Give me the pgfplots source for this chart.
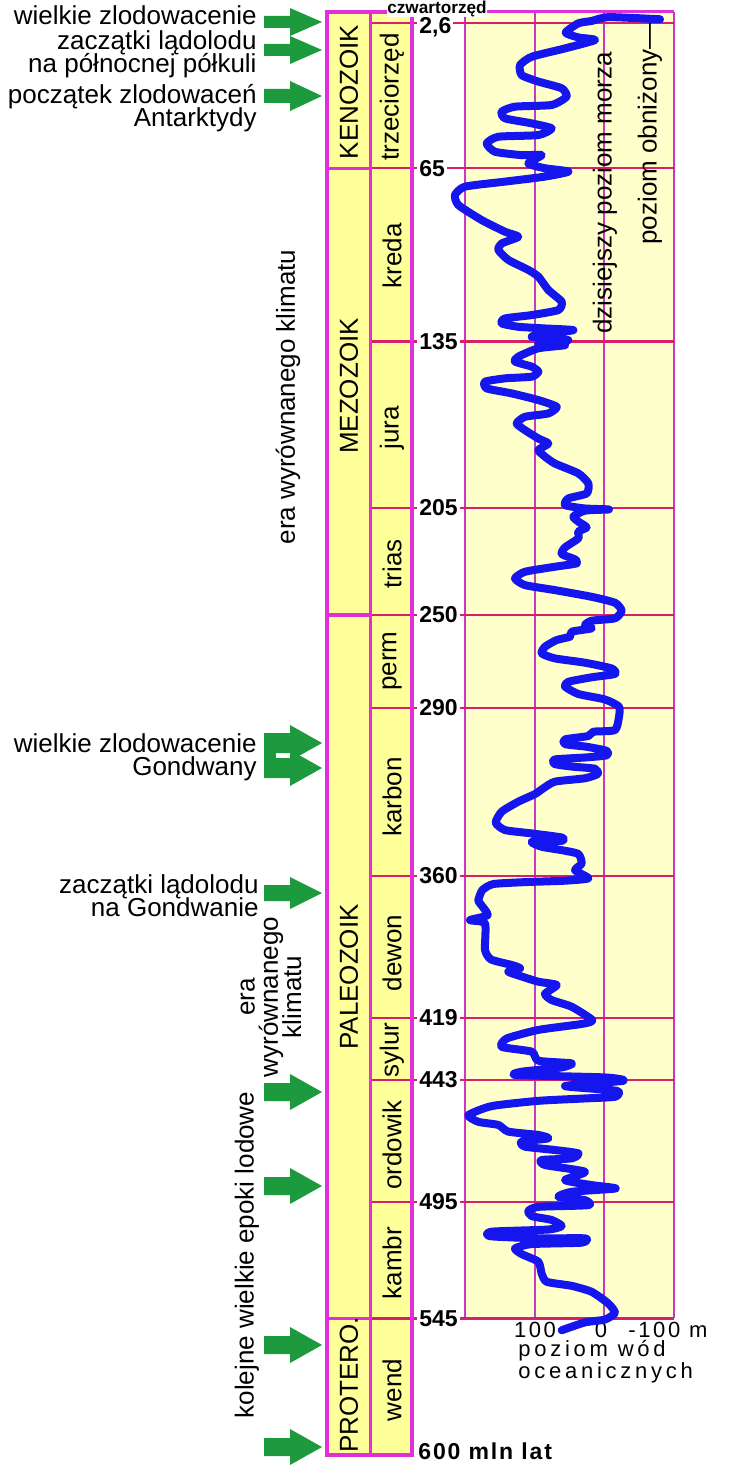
\documentclass[border=0pt]{standalone}
\usepackage{pgfplots}
\pgfplotsset{compat=1.18}
\usepackage{fontspec}
\setmainfont{Liberation Sans}
\definecolor{colY}{HTML}{FFFF99}
\definecolor{panY}{HTML}{FFFFCC}
\definecolor{mag}{HTML}{E030D8}
\definecolor{gridV}{HTML}{C838C8}
\definecolor{gridH}{HTML}{D8206A}
\definecolor{curveB}{HTML}{1515EE}
\definecolor{garr}{HTML}{1E9A3E}
\newcommand{\ftxt}{\fontsize{13}{11.6}\selectfont\lineskiplimit=-100pt}
\newcommand{\ftick}{\fontsize{11.5}{12}\selectfont\bfseries}
\newcommand{\garrow}[3]{%
 \fill[garr] (264,{#1-#2}) -- (290,{#1-#2}) -- (290,{#1-#3}) -- (322,#1) -- (290,{#1+#3}) -- (290,{#1+#2}) -- (264,{#1+#2}) -- cycle;}
\pgfplotstableread{
s age
-78.6 0.9
-5 0.0
19 1.6
38.1 2.6
56.2 6.5
38.1 8.5
14.3 9.6
57.1 13.1
104.7 16.6
121.4 20.1
119.0 24.3
95.2 27.0
61.9 29.8
54.8 33.3
76.2 36.8
128.6 37.5
147.6 39.6
142.8 42.4
104.7 44.5
76.2 46.6
95.2 49.4
152.4 50.1
169.0 52.9
157.1 56.4
119.0 57.8
90.5 57.8
109.5 61.3
85.7 63.3
52.4 64.7
85.7 66.8
142.8 68.9
200 71.0
214.3 74.5
209.5 78.7
176.2 85.0
142.8 89.9
123.8 92.0
147.6 94.8
152.4 97.5
138.1 101.7
109.5 105.9
95.2 108.7
80.9 114.3
61.9 119.2
66.7 122.7
104.7 124.8
142.8 126.2
147.6 128.3
123.8 129.7
85.7 130.4
45.2 131.1
85.7 132.7
104.7 133.9
52.4 135.3
95.2 136.7
57.1 137.4
95.2 138.7
123.8 142.2
128.6 144.3
104.7 146.4
95.2 148.5
104.7 150.6
142.8 151.3
171.4 152.7
169.0 155.5
133.3 157.6
95.2 160.4
69.0 163.2
80.9 166.0
114.3 167.4
126.2 170.2
114.3 173.0
95.2 176.5
80.9 178.6
95.2 181.3
85.7 184.1
71.4 187.0
38.1 191.1
23.8 195.3
26.2 199.5
52.4 201.6
57.1 204.4
28.6 205.8
-5.7 206.2
28.6 206.7
45.2 209.2
38.1 211.3
26.2 213.7
38.1 215.5
38.1 218.3
57.1 222.1
61.9 224.9
42.8 227.1
40.5 228.8
71.4 230.2
114.3 232.3
128.6 235.1
114.3 237.9
71.4 240.0
19.0 242.8
-14.3 245.3
-23.8 248.6
-14.3 251.8
19.0 252.8
28.6 254.6
19.0 256.0
47.6 257.4
50.0 259.5
69.0 260.9
85.7 263.7
90.5 266.5
71.4 268.6
28.6 270.4
-9.5 272.8
-14.3 275.1
19.0 276.5
52.4 278.4
57.1 280.4
38.1 283.5
0 285.8
-20 288.8
-20 293.0
-14.3 298.6
16.7 299.3
23.8 301.1
57.1 302.5
57.1 304.5
26.2 305.6
-2.4 307.3
-2.4 309.2
28.6 310.1
71.4 310.9
72.4 312.8
47.6 313.9
14.3 314.8
10.5 317.0
28.6 318.8
71.4 320.2
88.1 323.0
100 325.4
123.8 328.6
147.6 332.8
156.2 337.4
142.8 340.5
104.7 341.9
61.9 343.6
61.9 345.0
104.7 345.4
90.5 347.5
61.9 348.9
38.1 350.5
33.3 354.5
42.8 357.3
23.8 360.7
57.1 361.7
114.3 362.3
159.5 363.1
175.2 365.6
181.0 369.8
178.6 371.2
167.6 376.1
192.8 378.2
171.4 379.6
171.4 390.7
162.8 394.7
133.3 397.0
121.4 398.4
138.1 399.8
121.4 401.6
95.2 404.0
69.0 405.4
85.7 409.1
76.2 411.7
47.6 414.5
18.1 420.1
33.3 421.7
95.2 424.2
140.5 427.8
147.6 431.3
104.7 433.3
95.2 437.1
47.6 438.2
61.9 439.9
119.0 441.7
126.2 443.1
0 444.1
-26.2 445.5
57.1 447.7
-16.7 449.7
-14.3 452.2
28.6 452.9
95.2 453.9
161.9 456.1
195.2 459.9
180.9 462.7
152.4 464.0
138.1 466.8
95.2 468.2
80.9 469.6
119.0 471.0
114.3 473.1
71.4 474.5
38.1 475.9
47.6 478.0
90.5 478.7
85.7 480.8
28.6 483.6
57.1 487.1
19.0 489.2
-15.2 490.6
47.6 492.0
66.7 494.1
28.6 495.5
23.8 497.6
95.2 498.3
109.5 500.0
104.7 502.2
76.2 503.8
61.9 506.3
80.9 507.8
161.9 508.7
164.3 510.6
95.2 511.5
28.6 511.5
33.3 513.3
104.7 513.9
128.6 515.7
119.0 518.1
95.2 521.3
90.5 526.2
83.3 529.7
47.6 531.4
19.0 533.9
-4.8 538.8
-14.3 542.7
0 545.5
28.6 546.7
61.9 550.0
}\sealevel
\begin{document}
\begin{tikzpicture}
\begin{scope}[x=0.5pt,y=-0.5pt]
% panel background
\fill[panY] (465,12) rectangle (674,1318.3);
% columns
\fill[colY] (327,12) rectangle (412,1455);
% vertical grid lines
\foreach \xx in {465,535,604,674} \draw[gridV, line width=1pt] (\xx,12) -- (\xx,1318.3);
% horizontal boundary lines
\foreach \yy in {23.3,168.3,341.7,507.7,615,707.7,876,1017.7,1080,1202,1318.3}
  \draw[gridH, line width=1.2pt] (370,\yy) -- (674,\yy);
% era boundaries in era column
\foreach \yy in {168.3,615,1318.3} \draw[mag, line width=1.6pt] (327,\yy) -- (370,\yy);
% column borders
\draw[mag, line width=1.5pt] (370,12) -- (370,1455);
\draw[mag, line width=1.5pt] (412,12) -- (412,1455);
\draw[mag, line width=2pt] (327,12) rectangle (412,1455);
\draw[mag, line width=1.5pt] (412,12) -- (674,12);
% top label
\node[fill=white, inner sep=0pt, anchor=base, font=\fontsize{8.6}{9}\selectfont\bfseries] at (437,14) {czwartorzęd};
% tick labels
\foreach \yy/\lab in {27/{2,6},168.3/65,341.7/135,507.7/205,615/250,707.7/290,876/360,1017.7/419,1080/443,1202/495,1318.3/545}
  \node[fill=white, inner sep=1pt, anchor=west, font=\ftick] at (417,\yy) {\lab};
\node[inner sep=0.5pt, anchor=west, font=\fontsize{11.5}{12}\selectfont\bfseries\addfontfeatures{LetterSpace=8}] at (417,1451) {600 mln lat};
% era labels
\foreach \yy/\lab in {92/KENOZOIK,386/MEZOZOIK,977/PALEOZOIK,1385/PROTERO.}
  \node[rotate=90, font=\ftxt, inner sep=0] at (349,\yy) {\lab};
% period labels
\foreach \yy/\lab in {97/trzeciorzęd,256/kreda,428/jura,564/trias,661/perm,797/karbon,953/dewon,1050/sylur,1145/ordowik,1263/kambr,1390/wend}
  \node[rotate=90, font=\ftxt, inner sep=0] at (392,\yy) {\lab};
% panel rotated labels
\node[rotate=90, font=\ftxt, inner sep=0] at (605,193) {dzisiejszy poziom morza};
\node[rotate=90, font=\ftxt, inner sep=0] at (650,134) {poziom obniżony—};
% left texts
\node[anchor=east, align=right, font=\ftxt, inner sep=0] at (257,15) {wielkie zlodowacenie};
\node[anchor=east, align=right, font=\ftxt, inner sep=0] at (257,54) {zaczątki lądolodu\\na północnej półkuli};
\node[anchor=east, align=right, font=\ftxt, inner sep=0] at (257,108) {początek zlodowaceń\\Antarktydy};
\node[anchor=east, align=right, font=\ftxt, inner sep=0] at (257,757) {wielkie zlodowacenie\\Gondwany};
\node[anchor=east, align=right, font=\ftxt, inner sep=0] at (259,896) {zaczątki lądolodu\\na Gondwanie};
\node[rotate=90, font=\ftxt, inner sep=0] at (288,397) {era wyrównanego klimatu};
\node[rotate=90, align=center, font=\ftxt, inner sep=0] at (271,997) {era\\wyrównanego\\klimatu};
\node[rotate=90, font=\ftxt, inner sep=0] at (247,1255) {kolejne wielkie epoki lodowe};
% arrows
\garrow{22}{6}{14}
\garrow{50}{6}{14}
\garrow{96}{7}{15}
\garrow{743}{10}{18}
\garrow{768}{10}{18}
\fill[garr] (264,743) rectangle (276,768);
\garrow{893}{8}{16}
\garrow{1092}{9}{18}
\garrow{1186}{9}{18}
\garrow{1345}{9}{18}
\garrow{1447}{9}{18}
% bottom axis labels
\node[font=\fontsize{11}{12}\selectfont\addfontfeatures{LetterSpace=12}, inner sep=0] at (535,1330) {100};
\node[font=\fontsize{11}{12}\selectfont, inner sep=0] at (601,1330) {0};
\node[anchor=west, font=\fontsize{11}{12}\selectfont\addfontfeatures{LetterSpace=12}, inner sep=0] at (628,1330) {-100 m};
\node[anchor=west, align=left, font=\fontsize{11}{11}\selectfont\addfontfeatures{LetterSpace=17}, inner sep=0] at (518,1362) {poziom wód\\oceanicznych};
\end{scope}
\begin{axis}[
  at={(232.5pt,-6pt)}, anchor=north west,
  scale only axis, width=105pt, height=653.15pt,
  xmin=-100, xmax=200, x dir=reverse,
  ymin=-2.14, ymax=545, y dir=reverse,
  hide axis, clip=false]
\addplot[curveB, line width=4pt, line join=round, line cap=round, smooth, tension=0.35] table[x=s, y=age] {\sealevel};
\end{axis}
\begin{scope}[x=0.5pt,y=-0.5pt]
\pgfresetboundingbox
\path[use as bounding box] (0,0) rectangle (728,1465);
\end{scope}
\end{tikzpicture}
\end{document}
